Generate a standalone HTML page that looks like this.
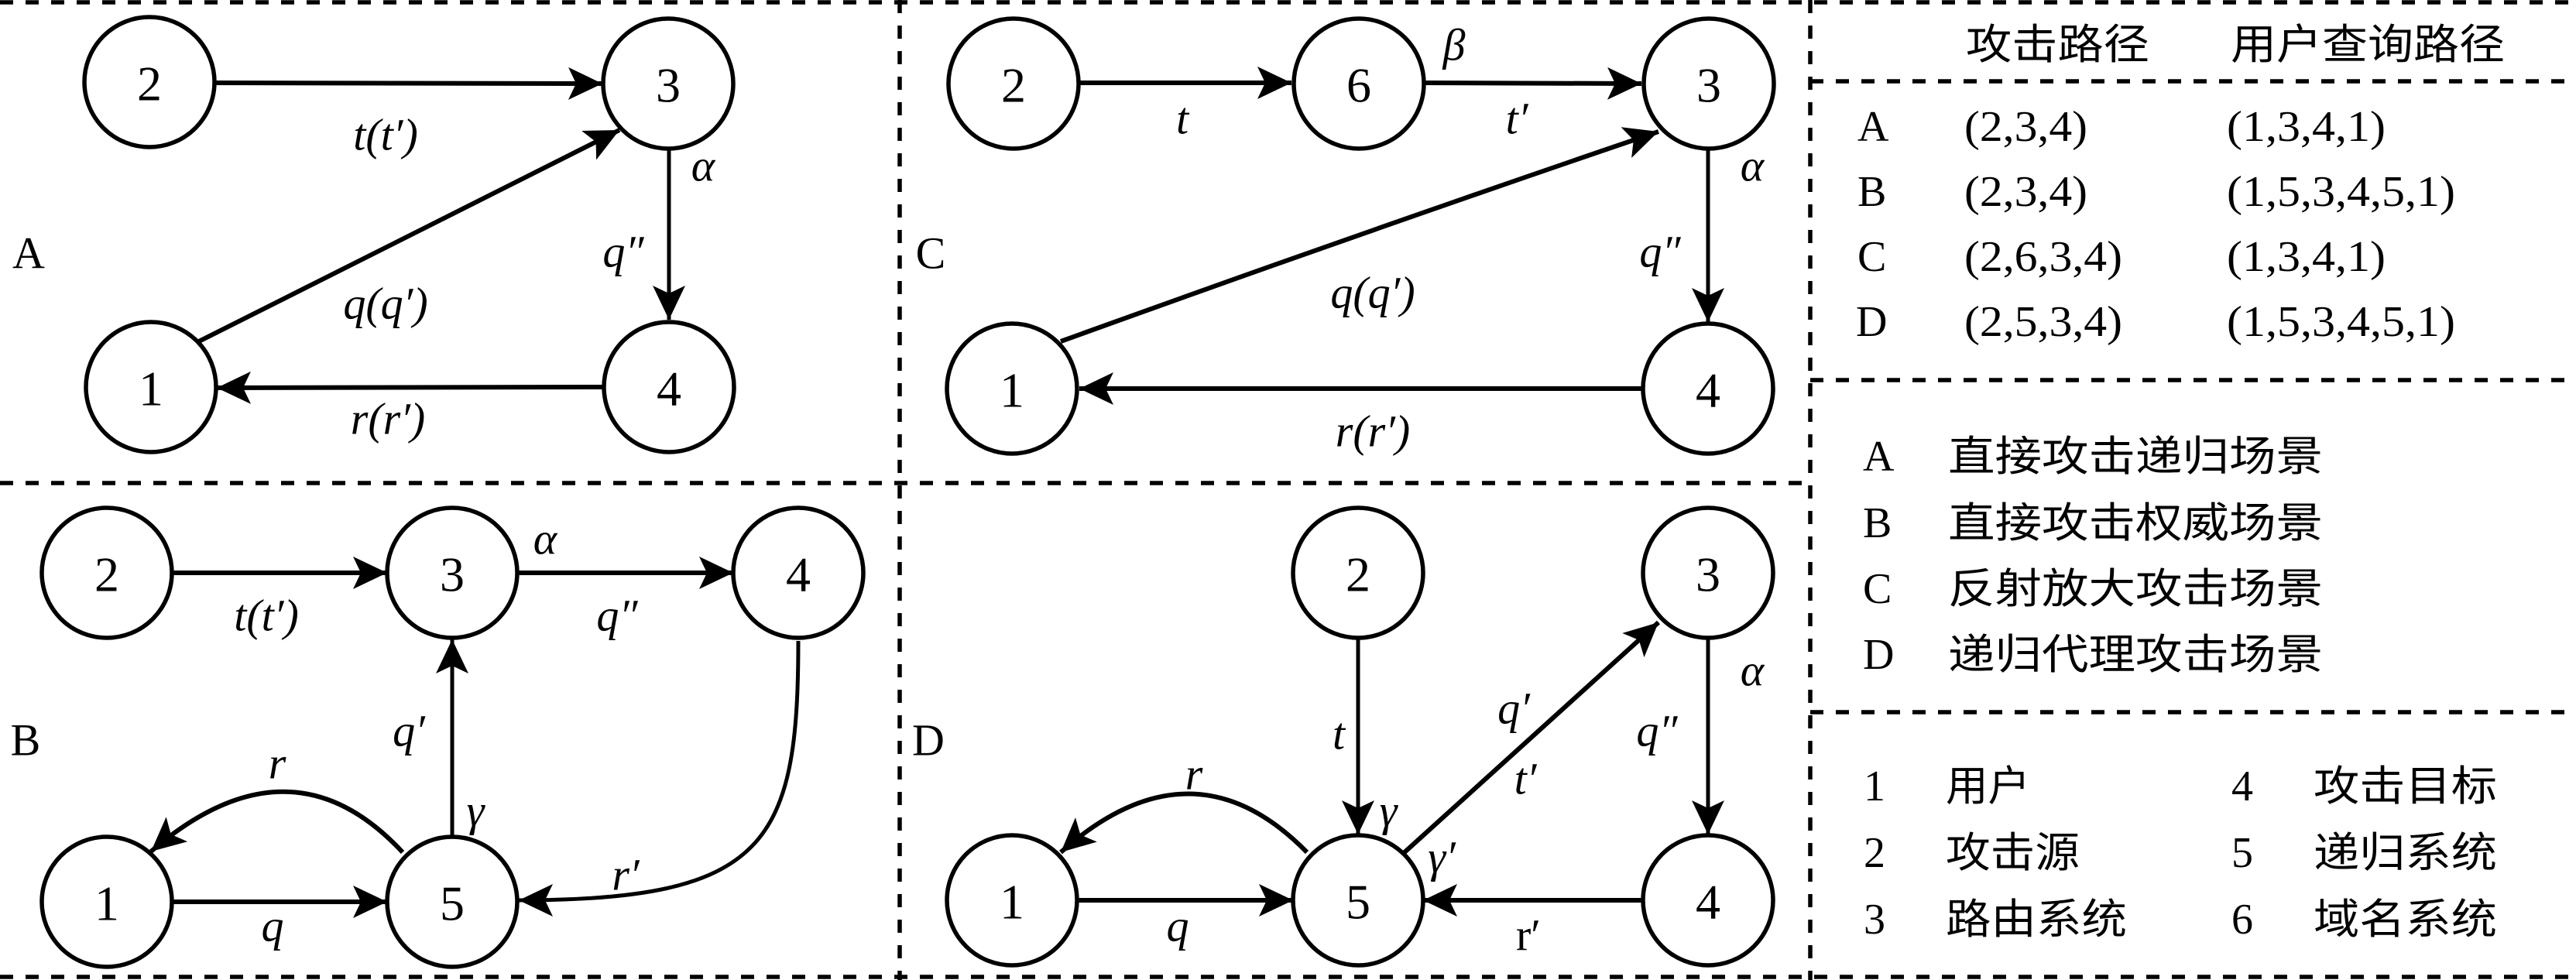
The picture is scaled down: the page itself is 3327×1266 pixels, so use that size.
<!DOCTYPE html>
<html><head><meta charset="utf-8"><style>
html,body{margin:0;padding:0;background:#fff;}
svg{display:block;}
.n{fill:#fff;stroke:#000;stroke-width:5.5;}
.d{font-family:"Liberation Serif",serif;font-size:64px;text-anchor:middle;dominant-baseline:central;}
.l{font-family:"Liberation Serif",serif;font-size:58px;font-style:italic;text-anchor:middle;dominant-baseline:central;}
.p{font-family:"Liberation Serif",serif;font-size:58px;text-anchor:middle;dominant-baseline:central;}
.e{stroke:#000;stroke-width:6;fill:none;}
.v{stroke:#000;stroke-width:5;fill:none;}
.ds{stroke:#000;stroke-width:5.5;stroke-dasharray:17 16;fill:none;}
.t{font-family:"Liberation Serif","Noto Serif CJK SC",serif;font-size:56px;}
.c{font-family:"Liberation Serif","Noto Sans CJK SC",serif;font-size:54px;}
</style></head><body>
<svg width="3327" height="1266" viewBox="0 0 3327 1266" xmlns="http://www.w3.org/2000/svg">
<defs>
<marker id="a" markerUnits="userSpaceOnUse" markerWidth="48" markerHeight="44" refX="44" refY="21" orient="auto">
<path d="M0,0 L44,21 L0,42 L10,21 Z" fill="#000"/>
</marker>
</defs>
<line class="ds" x1="0" y1="3" x2="3327" y2="3"/>
<line class="ds" x1="0" y1="1262" x2="3327" y2="1262"/>
<line class="ds" x1="0" y1="624" x2="2340" y2="624"/>
<line class="ds" x1="1162" y1="0" x2="1162" y2="1266"/>
<line class="ds" x1="2338" y1="0" x2="2338" y2="1266"/>
<line class="ds" x1="2338" y1="105" x2="3327" y2="105"/>
<line class="ds" x1="2338" y1="491" x2="3327" y2="491"/>
<line class="ds" x1="2338" y1="920" x2="3327" y2="920"/>

<!-- Panel A -->
<line class="e" x1="278" y1="107" x2="778" y2="108" marker-end="url(#a)"/>
<line class="e" x1="255" y1="442" x2="800" y2="168" marker-end="url(#a)"/>
<line class="v" x1="864" y1="193" x2="864" y2="413" marker-end="url(#a)"/>
<line class="e" x1="778" y1="500" x2="280" y2="501" marker-end="url(#a)"/>
<circle class="n" cx="193" cy="106" r="84"/><text class="d" x="193" y="108">2</text>
<circle class="n" cx="863" cy="108" r="84"/><text class="d" x="863" y="110">3</text>
<circle class="n" cx="195" cy="500" r="84"/><text class="d" x="195" y="502">1</text>
<circle class="n" cx="864" cy="500" r="84"/><text class="d" x="864" y="502">4</text>
<text class="p" x="37" y="327">A</text>
<text class="l" x="498" y="174">t(t′)</text>
<text class="l" x="908" y="214">α</text>
<text class="l" x="805" y="325">q″</text>
<text class="l" x="498" y="392">q(q′)</text>
<text class="l" x="501" y="541">r(r′)</text>

<!-- Panel C -->
<line class="e" x1="1395" y1="107" x2="1668" y2="107" marker-end="url(#a)"/>
<line class="e" x1="1840" y1="107" x2="2120" y2="108" marker-end="url(#a)"/>
<path class="e" d="M1370,441 Q1760,300 2142,170" marker-end="url(#a)"/>
<line class="v" x1="2206" y1="193" x2="2206" y2="416" marker-end="url(#a)"/>
<line class="e" x1="2120" y1="502" x2="1394" y2="502" marker-end="url(#a)"/>
<circle class="n" cx="1309" cy="108" r="84"/><text class="d" x="1309" y="110">2</text>
<circle class="n" cx="1755" cy="108" r="84"/><text class="d" x="1755" y="110">6</text>
<circle class="n" cx="2207" cy="108" r="84"/><text class="d" x="2207" y="110">3</text>
<circle class="n" cx="1307" cy="502" r="84"/><text class="d" x="1307" y="504">1</text>
<circle class="n" cx="2206" cy="502" r="84"/><text class="d" x="2206" y="504">4</text>
<text class="p" x="1202" y="327">C</text>
<text class="l" x="1527" y="153">t</text>
<text class="l" x="1878" y="58">β</text>
<text class="l" x="1959" y="153">t′</text>
<text class="l" x="2263" y="214">α</text>
<text class="l" x="2144" y="325">q″</text>
<text class="l" x="1773" y="378">q(q′)</text>
<text class="l" x="1773" y="557">r(r′)</text>

<!-- Panel B -->
<line class="e" x1="222" y1="740" x2="500" y2="740" marker-end="url(#a)"/>
<line class="e" x1="668" y1="740" x2="947" y2="740" marker-end="url(#a)"/>
<line class="v" x1="584" y1="1079" x2="584" y2="826" marker-end="url(#a)"/>
<line class="e" x1="222" y1="1165" x2="500" y2="1165" marker-end="url(#a)"/>
<path class="e" d="M520,1101 Q375,945 195,1100" marker-end="url(#a)"/>
<path class="v" d="M1031,828 C1031,1090 990,1163 670,1163" marker-end="url(#a)"/>
<circle class="n" cx="138" cy="740" r="84"/><text class="d" x="138" y="742">2</text>
<circle class="n" cx="584" cy="740" r="84"/><text class="d" x="584" y="742">3</text>
<circle class="n" cx="1031" cy="740" r="84"/><text class="d" x="1031" y="742">4</text>
<circle class="n" cx="138" cy="1165" r="84"/><text class="d" x="138" y="1167">1</text>
<circle class="n" cx="584" cy="1165" r="84"/><text class="d" x="584" y="1167">5</text>
<text class="p" x="33" y="956">B</text>
<text class="l" x="344" y="795">t(t′)</text>
<text class="l" x="704" y="696">α</text>
<text class="l" x="797" y="795">q″</text>
<text class="l" x="528" y="944">q′</text>
<text class="l" x="358" y="986">r</text>
<text class="l" x="614" y="1047">γ</text>
<text class="l" x="808" y="1130">r′</text>
<text class="l" x="352" y="1196">q</text>

<!-- Panel D -->
<line class="v" x1="1754" y1="826" x2="1754" y2="1078" marker-end="url(#a)"/>
<line class="e" x1="1814" y1="1101" x2="2142" y2="804" marker-end="url(#a)"/>
<line class="v" x1="2206" y1="826" x2="2206" y2="1078" marker-end="url(#a)"/>
<line class="e" x1="2120" y1="1163" x2="1838" y2="1163" marker-end="url(#a)"/>
<line class="e" x1="1392" y1="1163" x2="1670" y2="1163" marker-end="url(#a)"/>
<path class="e" d="M1688,1101 Q1540,950 1370,1101" marker-end="url(#a)"/>
<circle class="n" cx="1754" cy="740" r="84"/><text class="d" x="1754" y="742">2</text>
<circle class="n" cx="2206" cy="740" r="84"/><text class="d" x="2206" y="742">3</text>
<circle class="n" cx="1307" cy="1163" r="84"/><text class="d" x="1307" y="1165">1</text>
<circle class="n" cx="1754" cy="1163" r="84"/><text class="d" x="1754" y="1165">5</text>
<circle class="n" cx="2206" cy="1163" r="84"/><text class="d" x="2206" y="1165">4</text>
<text class="p" x="1199" y="956">D</text>
<text class="l" x="1729" y="948">t</text>
<text class="l" x="1793" y="1047">γ</text>
<text class="l" x="1862" y="1107">γ′</text>
<text class="l" x="1955" y="915">q′</text>
<text class="l" x="1970" y="1006">t′</text>
<text class="l" x="2263" y="866">α</text>
<text class="l" x="2140" y="944">q″</text>
<text class="l" x="1542" y="1000">r</text>
<text class="l" x="1521" y="1196">q</text>
<text class="p" x="1974" y="1208">r′</text>

<!-- Right panel -->
<text class="c" x="2539" y="76" textLength="237" lengthAdjust="spacingAndGlyphs">攻击路径</text>
<text class="c" x="2881" y="76" textLength="354" lengthAdjust="spacingAndGlyphs">用户查询路径</text>

<text class="t" x="2399" y="182">A</text>
<text class="t" x="2537" y="182" textLength="159" lengthAdjust="spacingAndGlyphs">(2,3,4)</text>
<text class="t" x="2876" y="182" textLength="205" lengthAdjust="spacingAndGlyphs">(1,3,4,1)</text>
<text class="t" x="2399" y="266">B</text>
<text class="t" x="2537" y="266" textLength="159" lengthAdjust="spacingAndGlyphs">(2,3,4)</text>
<text class="t" x="2876" y="266" textLength="295" lengthAdjust="spacingAndGlyphs">(1,5,3,4,5,1)</text>
<text class="t" x="2399" y="350">C</text>
<text class="t" x="2537" y="350" textLength="204" lengthAdjust="spacingAndGlyphs">(2,6,3,4)</text>
<text class="t" x="2876" y="350" textLength="205" lengthAdjust="spacingAndGlyphs">(1,3,4,1)</text>
<text class="t" x="2397" y="434">D</text>
<text class="t" x="2537" y="434" textLength="204" lengthAdjust="spacingAndGlyphs">(2,5,3,4)</text>
<text class="t" x="2876" y="434" textLength="295" lengthAdjust="spacingAndGlyphs">(1,5,3,4,5,1)</text>

<text class="t" x="2406" y="608">A</text>
<text class="c" x="2516" y="608" textLength="484" lengthAdjust="spacingAndGlyphs">直接攻击递归场景</text>
<text class="t" x="2406" y="694">B</text>
<text class="c" x="2516" y="694" textLength="484" lengthAdjust="spacingAndGlyphs">直接攻击权威场景</text>
<text class="t" x="2406" y="779">C</text>
<text class="c" x="2516" y="779" textLength="484" lengthAdjust="spacingAndGlyphs">反射放大攻击场景</text>
<text class="t" x="2406" y="864">D</text>
<text class="c" x="2516" y="864" textLength="484" lengthAdjust="spacingAndGlyphs">递归代理攻击场景</text>

<text class="t" x="2407" y="1034">1</text>
<text class="c" x="2513" y="1034" textLength="109" lengthAdjust="spacingAndGlyphs">用户</text>
<text class="t" x="2407" y="1120">2</text>
<text class="c" x="2513" y="1120" textLength="173" lengthAdjust="spacingAndGlyphs">攻击源</text>
<text class="t" x="2407" y="1206">3</text>
<text class="c" x="2513" y="1206" textLength="234" lengthAdjust="spacingAndGlyphs">路由系统</text>
<text class="t" x="2882" y="1034">4</text>
<text class="c" x="2988" y="1034" textLength="237" lengthAdjust="spacingAndGlyphs">攻击目标</text>
<text class="t" x="2882" y="1120">5</text>
<text class="c" x="2988" y="1120" textLength="237" lengthAdjust="spacingAndGlyphs">递归系统</text>
<text class="t" x="2882" y="1206">6</text>
<text class="c" x="2988" y="1206" textLength="237" lengthAdjust="spacingAndGlyphs">域名系统</text>
</svg>
</body></html>
